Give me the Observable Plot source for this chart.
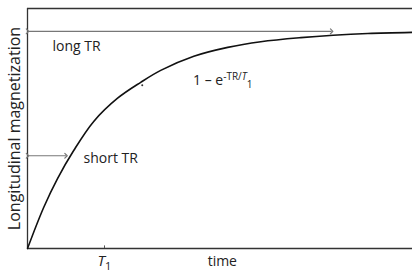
<!DOCTYPE html>
<html>
<head>
<meta charset="utf-8">
<script src="https://cdn.jsdelivr.net/npm/d3@7"></script>
<script src="https://cdn.jsdelivr.net/npm/@observablehq/plot@0.6"></script>
<style>
  html, body { margin: 0; padding: 0; background: #fff; }
  #chart svg { display: block; }
</style>
</head>
<body>
<div id="chart"></div>
<script>
// Curve (time in units of T1, magnetization relative to max)
const curveT = [0, 0.21, 0.39, 0.60, 0.86, 1.17, 1.47, 1.73, 2.16, 2.60, 3.03, 3.55, 3.97, 4.42, 5.0];
const curveM = [0, 0.189, 0.322, 0.451, 0.585, 0.692, 0.765, 0.82, 0.885, 0.926, 0.952, 0.971, 0.982, 0.99, 0.995];

// Arrows: [start time, end time, level]
const longTR = [0, 3.95, 1.0];
const shortTR = [0, 0.5, 0.427];

// Labels
const labelNames = ["long TR", "short TR", "FORMULA"];
const labelT = [0.325, 0.727, 2.15];
const labelM = [0.93, 0.413, 0.775];

const xTickValues = [1];
const xTickLabel = "T1LABEL";
const xAxisTitle = "time";
const xAxisTitlePos = 2.53;
const yAxisTitle = "Longitudinal magnetization";

const xDomain = [0, 5];
const yDomain = [0, 1.105];

const curve = curveT.map((t, i) => ({t, m: curveM[i]}));
const arrows = [longTR, shortTR].map(([a, b, m]) => ({a, b, m}));
const labels = labelNames.map((s, i) => ({s, t: labelT[i], m: labelM[i]}));

const ink = "#222";

const chart = Plot.plot({
  width: 412,
  height: 273,
  marginLeft: 27,
  marginRight: 0,
  marginTop: 8,
  marginBottom: 25,
  style: {fontFamily: "'Open Sans', sans-serif", fontSize: "13px", color: ink, background: "#fff"},
  x: {domain: xDomain, axis: null},
  y: {domain: yDomain, axis: null},
  marks: [
    // frame (top, bottom, left)
    Plot.ruleY([yDomain[1]], {stroke: "#333", strokeWidth: 1.3}),
    Plot.ruleY([0], {stroke: "#333", strokeWidth: 1.3}),
    Plot.ruleX([0], {stroke: "#333", strokeWidth: 1.3}),
    // T1 tick
    Plot.ruleX(xTickValues, {y1: 0, y2: 0.012, stroke: "#555", strokeWidth: 1}),
    // arrows
    Plot.link(arrows, {x1: "a", x2: "b", y1: "m", y2: "m", stroke: "#777", strokeWidth: 1.2, markerStart: "arrow", markerEnd: "arrow"}),
    // curve
    Plot.line(curve, {x: "t", y: "m", curve: "catmull-rom", stroke: "#111", strokeWidth: 1.6}),
    // small leader mark on curve
    Plot.dot([{t: 1.49, m: 0.752}], {x: "t", y: "m", r: 1, fill: "#333", stroke: null}),
    // labels
    Plot.text(labels, {x: "t", y: "m", text: "s", textAnchor: "start", fill: ink, fontSize: 14}),
    // x tick label and title
    Plot.text(xTickValues, {x: d => d, frameAnchor: "bottom", dy: 17, text: () => xTickLabel, fill: ink, fontSize: 14}),
    Plot.text([xAxisTitle], {x: xAxisTitlePos, frameAnchor: "bottom", dy: 17, text: d => d, fill: ink, fontSize: 14}),
    // y title
    Plot.text([yAxisTitle], {frameAnchor: "left", textAnchor: "middle", dx: -13, rotate: -90, text: d => d, fill: ink, fontSize: 16})
  ]
});

document.getElementById("chart").appendChild(chart);

function richText(key, segments) {
  d3.select(chart).selectAll("text")
    .filter(function() { return this.textContent === key; })
    .each(function() {
      const t = d3.select(this);
      t.text(null);
      segments.forEach(s => {
        const ts = t.append("tspan").text(s.text);
        if (s.size) ts.attr("font-size", s.size);
        if (s.italic) ts.attr("font-style", "italic");
        if (s.dy) ts.attr("dy", s.dy);
      });
    });
}

richText("FORMULA", [
  {text: "1 – e"},
  {text: "-TR/", size: 10, dy: -5},
  {text: "T", size: 10, italic: true},
  {text: "1", size: 10, dy: 8}
]);
richText("T1LABEL", [
  {text: "T", italic: true, size: 15},
  {text: "1", size: 11, dy: 4}
]);
</script>
</body>
</html>
